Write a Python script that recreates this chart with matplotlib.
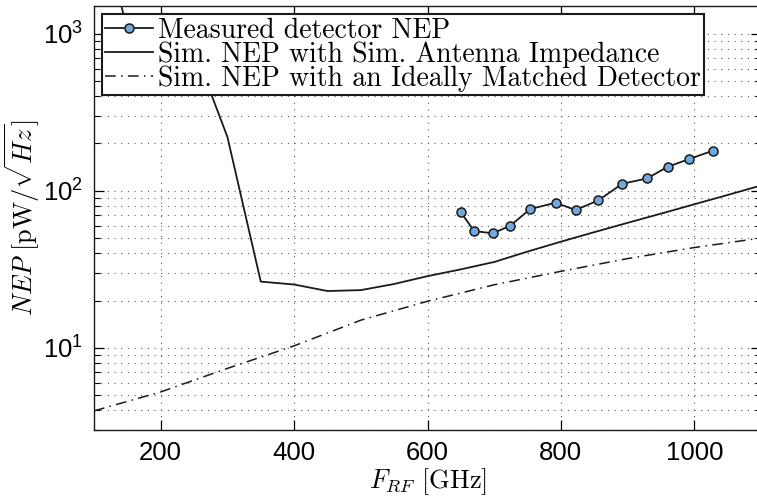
import numpy as np
import matplotlib
matplotlib.use('Agg')
import matplotlib.pyplot as plt
from matplotlib.ticker import LogLocator, NullFormatter, MultipleLocator

plt.rcParams['font.family'] = ['Liberation Sans', 'DejaVu Sans']
plt.rcParams['mathtext.fontset'] = 'cm'

# Measured detector NEP
meas_f = [650, 670, 698, 724, 754, 792, 822, 856, 892, 929, 960, 992, 1028]
meas_nep = [72.8, 55.4, 53.6, 59.9, 76.5, 83.9, 75.4, 86.8, 110.8, 119.7, 142, 159, 180]

# Simulated NEP with simulated antenna impedance
sim_f = [100, 150, 200, 250, 300, 350, 400, 450, 500, 550, 600, 650, 700, 750,
         800, 850, 900, 950, 1000, 1050, 1100]
sim_nep = [7700, 1050, 910, 800, 220, 26.4, 25.3, 23.0, 23.3, 25.5, 28.6, 31.6,
           35.2, 41.0, 47.4, 54.5, 62.5, 71.5, 82.0, 94.0, 108.0]

# Simulated NEP with an ideally matched detector
ideal_f = [100, 200, 300, 400, 500, 600, 700, 800, 900, 1000, 1100]
ideal_nep = [3.97, 5.24, 7.4, 10.3, 15.0, 19.8, 25.2, 30.7, 37.0, 43.5, 50.0]

fig = plt.figure(figsize=(7.57, 4.99), dpi=100)
ax = fig.add_axes([0.1242, 0.1383, 0.8811, 0.8497])

ax.plot(meas_f, meas_nep, '-o', color='#1a1a1a', lw=1.3, ms=6.5,
        mfc='#72a8dc', mec='#1a1a1a', mew=1.1, label='Measured detector NEP', zorder=4)
ax.plot(sim_f, sim_nep, '-', color='#1a1a1a', lw=1.3,
        label='Sim. NEP with Sim. Antenna Impedance', zorder=3)
ax.plot(ideal_f, ideal_nep, color='#1a1a1a', lw=1.1, dashes=(7, 3.5, 1, 3.5),
        label='Sim. NEP with an Ideally Matched Detector', zorder=3)

ax.set_yscale('log')
ax.set_xlim(100, 1100)
ax.set_ylim(3, 1500)
ax.xaxis.set_major_locator(MultipleLocator(200))
ax.yaxis.set_major_locator(LogLocator(base=10))
ax.yaxis.set_minor_locator(LogLocator(base=10, subs=np.arange(2, 10)))
ax.yaxis.set_minor_formatter(NullFormatter())

grid_kw = dict(color='0.35', linestyle=(0, (1, 5)), linewidth=0.8)
ax.grid(True, which='major', axis='both', **grid_kw)
ax.grid(True, which='minor', axis='y', **grid_kw)

ax.tick_params(which='major', direction='in', length=7, width=0.9,
               labelsize=18.5, top=True, right=True, pad=8)
ax.tick_params(which='minor', direction='in', length=4, width=0.8, right=True)
for s in ax.spines.values():
    s.set_linewidth(1.0)
    s.set_color('#1a1a1a')

ax.set_xlabel(r'$F_{RF}\ \mathrm{[GHz]}$', fontsize=19, labelpad=1)
ax.set_ylabel(r'$NEP\ \mathrm{[pW/}\sqrt{Hz}\mathrm{]}$', fontsize=19)
ax.yaxis.set_label_coords(-0.078, 0.5)

leg = ax.legend(loc='upper left', bbox_to_anchor=(0.012, 0.981), borderaxespad=0,
                prop={'family': 'cmr10', 'size': 20}, fancybox=False, framealpha=1,
                edgecolor='#1a1a1a', handlelength=1.7, handletextpad=0.2,
                labelspacing=-0.09, borderpad=0.12)
leg.get_frame().set_linewidth(1.5)

fig.savefig('out.png', dpi=100)
